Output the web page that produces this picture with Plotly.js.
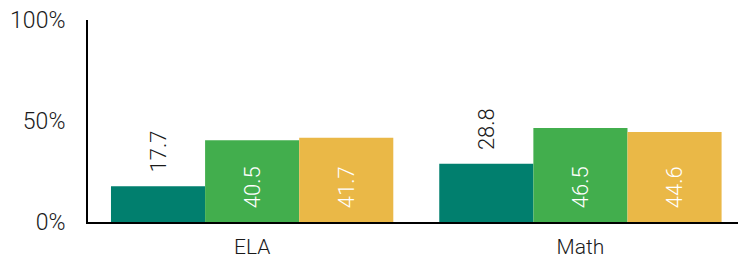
<!DOCTYPE html>
<html><head><meta charset="utf-8">
<script src="https://cdn.plot.ly/plotly-3.0.1.min.js"></script>
<style>html,body{margin:0;padding:0;background:#fff}#c{width:738px;height:260px}</style>
</head><body><div id="c"></div>
<script>
const categories = ['ELA', 'Math'];
const series1 = [17.7, 28.8];
const series2 = [40.5, 46.5];
const series3 = [41.7, 44.6];
const yTicks = [0, 50, 100];
const yTickLabels = ['0%', '50%', '100%'];

const FONT = 'Roboto, Arial, sans-serif';
const W = 300;
const traces = [
  {y: series1, color: '#017F6E', pos: 'outside', tc: '#1a1a1a', pre: '\u00a0\u00a0'},
  {y: series2, color: '#42AE4D', pos: 'inside', tc: '#ffffff', pre: '\u00a0\u00a0'},
  {y: series3, color: '#EAB847', pos: 'inside', tc: '#ffffff', pre: '\u00a0\u00a0'}
].map(s => ({
  type: 'bar', x: categories, y: s.y,
  marker: {color: s.color, line: {width: 0}},
  text: s.y.map(v => s.pre + v.toFixed(1)),
  textposition: s.pos, textangle: -90,
  insidetextanchor: 'start',
  cliponaxis: false,
  textfont: {family: FONT, size: 22, color: s.tc, weight: W},
  outsidetextfont: {family: FONT, size: 22, color: s.tc, weight: W},
  insidetextfont: {family: FONT, size: 22, color: s.tc, weight: W},
  hoverinfo: 'none'
}));

Plotly.newPlot('c', traces, {
  width: 738, height: 260,
  margin: {l: 88, r: 0, t: 20, b: 38},
  barmode: 'group', bargap: 0.14, bargroupgap: 0,
  showlegend: false,
  paper_bgcolor: '#fff', plot_bgcolor: '#fff',
  font: {family: FONT, color: '#1a1a1a', weight: W},
  xaxis: {range: [-0.5, 1.48], showline: true, linecolor: '#000', linewidth: 2,
          ticks: '', tickfont: {size: 21, weight: W}, showgrid: false, zeroline: false, ticklabelstandoff: 5},
  yaxis: {range: [0, 100], tickvals: yTicks, ticktext: yTickLabels,
          showline: true, linecolor: '#000', linewidth: 2, ticks: '',
          showgrid: false, zeroline: false, tickfont: {size: 23, weight: W}, ticklabelstandoff: 16}
}, {displayModeBar: false, staticPlot: true});
</script></body></html>
